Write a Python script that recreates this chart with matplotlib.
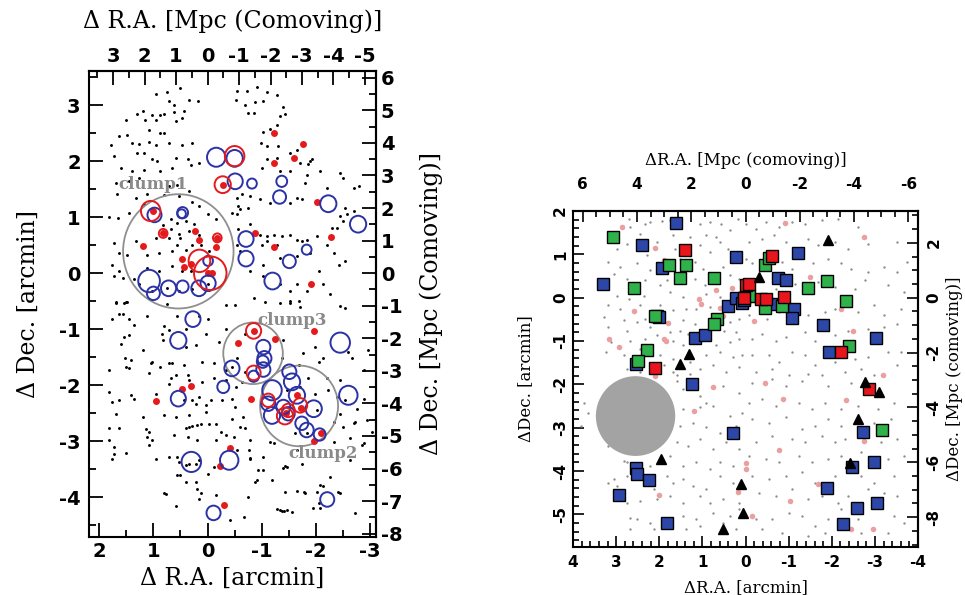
import numpy as np
import matplotlib
matplotlib.use("Agg")
import matplotlib.pyplot as plt
from matplotlib.patches import Circle
from matplotlib.ticker import MultipleLocator, FixedLocator

plt.rcParams["axes.unicode_minus"] = False

# ---------------- left panel data (arcmin) ----------------
left_dots = [
    (0.96, 3.20), (0.74, 3.24), (0.51, 3.31), (0.71, 3.08), (0.34, 3.10), (0.17, 3.08), (0.62, 3.01),
    (1.20, 2.90), (1.30, 2.85), (1.02, 2.82), (0.88, 2.83), (0.80, 2.85), (0.62, 2.88), (0.43, 2.90),
    (1.50, 2.73), (1.15, 2.73), (0.96, 2.73), (0.58, 2.71), (0.47, 2.77), (0.87, 2.51), (0.80, 2.51),
    (1.08, 2.55), (1.64, 2.45), (1.48, 2.46), (1.39, 2.33), (1.27, 2.30), (1.08, 2.35), (0.96, 2.29),
    (0.71, 2.33), (0.47, 2.29), (0.28, 2.33), (1.79, 2.29), (1.73, 2.09), (1.30, 2.15), (1.17, 2.15),
    (1.02, 2.03), (0.93, 2.00), (0.59, 2.06), (0.37, 2.03), (0.16, 1.97), (1.60, 1.88), (1.39, 1.82),
    (1.17, 1.85), (0.87, 1.82), (0.65, 1.87), (0.31, 1.94), (1.70, 1.61), (1.45, 1.64), (1.27, 1.70),
    (0.71, 1.55), (0.56, 1.58), (0.34, 1.46), (1.67, 1.41), (1.33, 1.35), (1.11, 1.41), (0.80, 1.39),
    (0.53, 1.37), (1.82, 1.00), (1.65, 0.99), (1.45, 1.08), (1.17, 1.23), (0.28, 1.27), (0.16, 1.20),
    (0.00, 1.05), (-0.15, 0.96), (0.68, 0.96), (0.56, 0.90), (0.40, 0.93), (0.25, 0.87), (0.83, 0.86),
    (0.68, 0.78), (0.53, 0.70), (0.34, 0.76), (0.16, 0.69), (0.96, 0.63), (0.71, 0.63), (0.50, 0.63),
    (0.28, 0.51), (1.33, 0.57), (1.73, 0.54), (1.64, 0.36), (1.48, 0.33), (1.11, 0.33), (0.90, 0.36),
    (0.65, 0.39), (0.40, 0.42), (0.56, 0.51), (0.13, 0.51), (-0.03, 0.39), (1.64, 0.04), (1.36, -0.11),
    (1.11, 0.10), (0.90, 0.04), (0.65, 0.13), (0.47, 0.04), (0.31, 0.04), (1.76, 0.15), (1.73, -0.05),
    (1.57, -0.08), (1.27, -0.20), (1.02, -0.32), (0.74, -0.26), (0.53, -0.32), (0.28, -0.29),
    (0.00, -0.20), (1.51, -0.52), (1.70, -0.52),
    (-0.54, 3.25), (-0.72, 3.25), (-0.91, 3.32), (-1.09, 3.24), (-1.28, 3.18), (-0.53, 3.10),
    (-0.69, 3.01), (-0.88, 3.06), (-1.03, 3.07), (-0.75, 2.86), (-0.85, 2.86), (-1.40, 2.96),
    (-1.43, 2.85), (-1.34, 2.80), (-1.28, 2.65), (-1.03, 2.52), (-1.16, 2.57), (-0.98, 2.33),
    (-1.09, 2.27), (-1.31, 2.27), (-1.53, 2.15), (-1.65, 2.20), (-1.89, 2.00), (-1.71, 1.97),
    (-1.86, 1.95), (-1.93, 2.03), (-1.09, 2.03), (-1.28, 2.06), (-1.00, 1.88), (-1.34, 1.82),
    (-1.53, 1.82), (-1.83, 1.76), (-1.80, 1.61), (-2.08, 1.82), (-2.20, 1.52), (-2.45, 1.79),
    (-2.51, 1.70), (-2.71, 1.52), (-2.79, 1.55), (-0.54, 1.35), (-0.63, 1.41), (-0.79, 1.38),
    (-0.57, 1.20), (-0.75, 1.17), (-0.97, 1.32), (-1.16, 1.26), (-1.53, 1.26), (-1.65, 1.35),
    (-1.74, 1.32), (-2.54, 1.17), (-2.57, 1.05), (-0.54, 1.05), (-0.60, 1.14), (-0.45, 1.08),
    (-2.30, 0.81), (-2.39, 0.81), (-2.45, 1.02), (-2.51, 0.93), (-2.70, 1.11), (-0.57, 0.78),
    (-0.79, 0.87), (-0.97, 0.69), (-1.09, 0.66), (-1.22, 0.69), (-1.37, 0.66), (-1.53, 0.69),
    (-1.65, 0.60), (-1.74, 0.57), (-1.83, 0.60), (-2.02, 0.66), (-1.09, 0.57), (-1.00, 0.51),
    (-0.60, 0.39), (-0.54, 0.51), (-1.03, 0.15), (-1.28, 0.51), (-1.34, 0.27), (-1.65, 0.30),
    (-1.89, 0.36), (-2.20, 0.51), (-2.33, 0.36), (-2.42, 0.15), (-2.54, 0.21), (-0.79, 0.04),
    (-1.03, -0.05), (-1.34, -0.20), (-1.53, -0.32), (-1.65, -0.20), (-2.05, 0.04), (-2.14, -0.20),
    (-1.83, -0.32), (-2.26, -0.38), (-0.85, -0.44), (-1.34, -0.53), (-1.53, -0.50), (-1.68, -0.50),
    (1.70, -0.54), (1.54, -0.53), (1.48, -0.51), (1.11, -0.77), (0.74, -0.55), (0.56, -0.77),
    (0.16, -0.77), (0.00, -0.81), (-0.34, -0.57), (1.76, -0.81), (1.64, -0.73), (1.57, -0.73),
    (1.45, -0.81), (1.36, -0.93), (0.80, -0.95), (0.85, -1.08), (0.71, -1.02), (0.40, -0.99),
    (0.03, -1.08), (-0.34, -0.99), (1.60, -1.26), (1.45, -1.11), (1.54, -1.14), (1.20, -1.37),
    (0.83, -1.20), (0.40, -1.32), (0.22, -1.29), (-0.21, -1.23), (1.52, -1.52), (1.42, -1.55),
    (1.51, -1.67), (1.45, -1.70), (1.05, -1.61), (1.02, -1.58), (0.71, -1.61), (0.65, -1.60),
    (0.87, -1.67), (0.43, -1.64), (0.37, -1.82), (0.59, -1.82), (0.10, -1.58), (-0.12, -1.61),
    (-0.34, -1.73), (1.82, -1.72), (1.08, -1.79), (0.68, -1.88), (0.71, -1.97), (0.34, -1.91),
    (0.10, -1.94), (-0.12, -1.88), (-0.34, -1.91), (1.82, -2.12), (1.64, -2.27), (1.42, -2.18),
    (1.36, -2.24), (1.76, -2.30), (0.96, -2.15), (0.43, -2.27), (0.28, -2.27), (0.22, -2.33),
    (0.03, -2.36), (0.16, -2.21), (-0.06, -2.27), (-0.27, -2.27), (1.70, -2.51), (1.20, -2.57),
    (0.80, -2.54), (0.59, -2.57), (0.34, -2.54), (0.03, -2.48), (1.82, -2.77), (1.64, -2.77),
    (1.14, -2.79), (1.08, -2.83), (1.11, -2.92), (1.02, -2.98), (1.08, -3.07), (0.40, -2.77),
    (0.34, -2.74), (0.28, -2.73), (0.19, -2.71), (0.13, -2.70), (-0.03, -2.70), (-0.15, -2.70),
    (-0.24, -2.83), (-0.34, -2.89), (0.62, -2.89), (0.37, -2.92), (0.19, -2.98), (-0.15, -2.97),
    (1.82, -2.98), (1.73, -3.10), (1.73, -3.22), (1.76, -3.31), (1.51, -3.21), (0.96, -3.31),
    (0.71, -3.28), (0.56, -3.28), (0.53, -3.37), (0.40, -3.43), (0.34, -3.41), (0.22, -3.40),
    (0.16, -3.33), (0.00, -3.58), (-0.12, -3.46), (0.56, -3.61), (0.50, -3.61), (0.40, -3.73),
    (0.22, -3.73), (0.19, -3.86), (0.13, -3.93), (-0.15, -3.96), (0.80, -3.93), (0.59, -4.16),
    (0.16, -4.04), (0.77, -3.95), (-0.42, -4.40), (-0.68, -4.35), (-0.74, -4.00), (-1.29, -4.21),
    (-1.37, -4.25), (-1.42, -4.25), (-1.65, -3.89), (-1.78, -3.90), (-1.94, -4.20), (-2.13, -3.80),
    (-2.73, -4.29), (-2.40, -3.90), (-1.46, -3.46), (-1.43, -3.45), (-1.39, -3.48), (-0.91, -3.70),
    (-1.03, -3.52), (-0.79, -3.30), (-0.77, -3.15), (-2.70, -2.68),
    (-0.51, -0.57), (-1.06, -0.51), (-1.53, -0.54), (-1.71, -0.60), (-2.45, -0.59), (-2.54, -0.63),
    (-0.69, -1.08), (-0.54, -1.52), (-0.45, -1.67), (-0.69, -1.76), (-0.63, -1.94), (-0.53, -2.03),
    (-0.45, -2.24), (-0.51, -2.39), (-0.45, -2.60), (-0.66, -2.57), (-0.60, -2.74), (-0.69, -2.77),
    (-0.48, -2.92), (-0.79, -2.98), (-0.54, -3.16), (-0.79, -3.31), (-1.03, -3.28), (-0.94, -3.52),
    (-0.88, -3.73), (-1.19, -3.70), (-1.43, -3.90), (-1.80, -3.93), (-2.02, -3.90), (-1.46, -4.23),
    (-1.56, -4.26), (-1.34, -4.23), (-2.05, -4.11), (-2.08, -4.20), (-2.08, -3.79), (-2.45, -3.93),
    (-2.26, -3.64), (-2.63, -3.34), (-2.63, -2.95), (-2.73, -2.66), (-2.51, -2.74), (-2.33, -2.66),
    (-2.45, -2.51), (-2.54, -2.27), (-2.76, -2.42), (-2.39, -2.21), (-2.88, -2.24), (-2.45, -1.91),
    (-2.88, -1.73), (-2.66, -1.52), (-2.60, -1.40), (-2.97, -1.37), (-2.05, -1.58), (-2.14, -1.52),
    (-1.77, -1.43), (-1.68, -1.64), (-1.37, -1.52), (-1.40, -1.20), (-1.99, -1.32), (-1.62, -2.86),
    (-1.65, -3.16), (-1.22, -3.04), (-2.20, -1.88), (-2.23, -2.09), (-1.46, -2.09), (-1.71, -2.03),
    (-1.86, -1.88), (-1.99, -2.15), (-2.02, -2.45), (-1.83, -2.86), (-2.33, -3.01), (-2.88, -3.04),
    (-3.03, -2.83), (-2.94, -2.62), (-2.85, -3.07), (-1.74, -3.40), (-1.16, -3.01),
]

left_red_dots = [
    (-1.23, 2.51), (-1.76, 2.30), (-1.60, 2.06), (-1.22, 1.96), (-0.28, 1.58), (-2.03, 1.27),
    (1.00, 1.11), (0.23, 0.76), (0.82, 0.71), (0.15, 0.59), (-0.18, 0.63), (-0.16, 0.46),
    (1.19, 0.49), (-0.88, 0.71), (-1.23, 0.46), (-2.28, 0.64), (0.48, 0.26), (0.43, 0.11),
    (0.31, 0.17), (0.00, 0.00), (-0.08, 0.00), (-1.91, -0.20), (0.96, -2.28), (0.47, -2.07),
    (0.31, -2.01), (-0.80, -2.24), (-0.42, -3.13), (-0.23, -3.44), (-0.31, -4.13), (-1.96, -1.04),
    (-0.57, -1.24), (-1.25, -1.17), (-0.85, -1.03), (-1.96, -3.00), (-2.09, -2.86), (-1.65, -2.18),
    (-1.73, -2.40), (-1.45, -2.50),
]

# (x, y, radius) in arcmin
left_blue_rings = [
    (-0.16, 2.07, 0.17), (-0.50, 2.05, 0.15), (-0.51, 1.64, 0.14), (-0.82, 1.60, 0.09),
    (-1.37, 1.64, 0.10), (-1.33, 1.36, 0.12), (-2.23, 1.24, 0.15), (-2.78, 0.875, 0.15),
    (0.98, 1.04, 0.13), (0.46, 1.08, 0.10), (0.48, 1.06, 0.08), (-0.71, 0.61, 0.14),
    (-0.71, 0.26, 0.14), (-1.51, 0.21, 0.12), (-1.83, 0.42, 0.09), (-1.20, -0.14, 0.15),
    (-0.01, 0.22, 0.09), (1.08, -0.14, 0.20), (0.72, -0.27, 0.14), (0.46, -0.24, 0.11),
    (0.16, -0.27, 0.14), (-0.01, -0.18, 0.14), (1.00, -0.36, 0.12), (0.27, -0.82, 0.14),
    (0.54, -1.20, 0.15), (-1.03, -1.32, 0.13), (-1.05, -1.52, 0.13), (-1.02, -1.58, 0.11),
    (-1.03, -1.72, 0.13), (-0.45, -1.70, 0.14), (-0.85, -1.84, 0.10), (-1.51, -1.76, 0.13),
    (-1.56, -1.94, 0.15), (-1.19, -2.09, 0.18), (-1.65, -2.18, 0.15), (-1.12, -2.33, 0.13),
    (-1.40, -2.39, 0.13), (-1.96, -2.42, 0.15), (-1.19, -2.54, 0.15), (-1.49, -2.51, 0.12),
    (-1.74, -2.68, 0.12), (-1.83, -2.80, 0.13), (-2.07, -2.88, 0.11), (-2.60, -2.18, 0.17),
    (-2.45, -1.24, 0.18), (0.54, -2.24, 0.14), (-0.29, -2.03, 0.11), (0.30, -3.37, 0.18),
    (-0.40, -3.34, 0.17), (-0.11, -4.28, 0.13), (-2.21, -4.04, 0.13),
]

left_red_rings = [
    (-0.50, 2.09, 0.18), (-0.28, 1.58, 0.15), (1.05, 1.11, 0.18), (0.82, 0.71, 0.08),
    (-0.18, 0.63, 0.08), (0.15, 0.22, 0.20), (-0.05, 0.00, 0.30), (-0.85, -1.03, 0.14),
    (-0.85, -1.78, 0.13), (-1.12, -2.27, 0.12), (-1.43, -2.55, 0.15), (-1.71, -2.36, 0.13),
    (-1.49, -2.45, 0.12),
]

clump_names = ["clump1", "clump2", "clump3"]
clump_centers = [(0.54, 0.39), (-1.69, -2.37), (-0.84, -1.43)]
clump_radii = [1.02, 0.72, 0.55]
clump_label_pos = [(1.0, 1.58), (-2.14, -3.22), (-1.56, -0.84)]

left_top_ticks = [3, 2, 1, 0, -1, -2, -3, -4, -5]
left_right_ticks = [6, 5, 4, 3, 2, 1, 0, -1, -2, -3, -4, -5, -6, -7, -8]

# ---------------- right panel data (arcmin) ----------------
right_dots = [
    (2.71, 1.82), (2.32, 1.69), (2.21, 1.75), (1.94, 1.76), (1.75, 1.79), (1.06, 1.69), (0.83, 1.75),
    (0.57, 1.71), (0.18, 1.82), (2.67, 1.63), (2.44, 1.48), (1.67, 1.44), (1.29, 1.40), (0.91, 1.44),
    (0.68, 1.40), (0.37, 1.55), (2.97, 1.13), (2.74, 1.25), (2.29, 0.98), (2.06, 1.29), (1.64, 1.13),
    (1.06, 1.21), (0.83, 1.05), (0.60, 1.29), (0.41, 1.13), (3.20, 0.82), (2.90, 0.71), (2.52, 0.79),
    (2.21, 0.63), (1.52, 0.90), (1.18, 0.82), (0.99, 0.67), (0.53, 0.71), (3.05, 0.55), (2.74, 0.44),
    (2.32, 0.40), (1.98, 0.29), (1.83, 0.40), (1.18, 0.44), (0.95, 0.29), (0.37, 0.52), (0.15, 0.44),
    (2.97, 0.05), (2.71, -0.02), (2.36, 0.05), (1.75, 0.13), (1.44, 0.01), (0.91, 0.09), (0.60, 0.01),
    (0.15, 0.13), (3.20, -0.18), (2.90, -0.25), (2.44, -0.18), (1.98, -0.18), (1.67, -0.29),
    (1.37, -0.25), (1.14, -0.25), (0.83, -0.22), (3.28, -0.45), (2.82, -0.52), (2.52, -0.56),
    (2.32, -0.49), (1.44, -0.52), (1.18, -0.60), (0.76, -0.37), (0.37, -0.56), (0.15, -0.49),
    (3.20, -0.68), (2.74, -0.76), (2.21, -0.68), (1.75, -0.79), (1.52, -0.76), (1.33, -0.83),
    (0.83, -0.72), (0.49, -0.76), (0.22, -0.79), (3.13, -1.02), (2.67, -0.99), (2.32, -0.95),
    (2.06, -0.87), (1.67, -0.99), (1.44, -1.10), (0.68, -1.10), (0.37, -1.02), (0.15, -0.95),
    (3.24, -1.26), (2.82, -1.33), (2.44, -1.18), (1.98, -1.33), (1.67, -1.41), (1.29, -1.49),
    (0.91, -1.33), (0.60, -1.26), (0.30, -1.37), (0.07, -1.33), (2.74, -1.64), (2.44, -1.72),
    (1.90, -1.56), (1.67, -1.72), (1.06, -1.64), (0.76, -1.56), (0.45, -1.72), (0.15, -1.60),
    (2.13, -1.79), (1.60, -1.79), (1.29, -1.76),
    (-0.01, 1.71), (-0.24, 1.59), (-0.47, 1.75), (-0.77, 1.63), (-1.08, 1.75), (-1.38, 1.71),
    (-1.77, 1.79), (-2.15, 1.82), (-2.61, 1.63), (-0.08, 1.29), (-0.39, 1.36), (-0.66, 1.44),
    (-0.93, 1.29), (-1.46, 1.36), (-1.69, 1.21), (-2.07, 1.29), (-2.38, 1.13), (-2.84, 1.25),
    (-3.52, 1.29), (-0.01, 0.90), (-0.16, 0.79), (-0.85, 0.82), (-1.08, 0.67), (-1.57, 0.79),
    (-1.92, 0.90), (-2.22, 0.79), (-2.45, 0.67), (-2.84, 0.59), (-3.22, 0.71), (-3.52, 0.59),
    (-3.75, 0.82), (-0.70, 0.21), (-1.15, 0.32), (-1.69, 0.36), (-2.07, 0.25), (-2.53, 0.21),
    (-2.76, 0.40), (-3.30, 0.29), (-3.68, 0.13), (-0.08, -0.41), (-0.50, -0.49), (-0.77, -0.33),
    (-1.46, -0.41), (-1.84, -0.33), (-2.07, -0.25), (-2.61, -0.33), (-2.99, -0.18), (-3.22, -0.41),
    (-3.60, -0.25), (-0.16, -0.95), (-0.39, -0.83), (-0.70, -0.99), (-0.93, -0.91), (-1.38, -0.79),
    (-1.61, -0.99), (-2.07, -0.87), (-2.38, -0.76), (-2.84, -0.72), (-3.22, -0.68), (-3.52, -0.60),
    (-0.16, -1.33), (-0.54, -1.33), (-0.77, -1.49), (-1.08, -1.26), (-1.38, -1.33), (-1.61, -1.56),
    (-2.07, -1.49), (-2.53, -1.41), (-2.84, -1.37), (-3.30, -1.26), (-3.60, -1.26), (-0.24, -1.72),
    (-0.62, -1.64), (-1.00, -1.79), (-1.46, -1.76), (-1.77, -1.79), (-2.30, -1.72), (-2.68, -1.64),
    (-2.99, -1.79), (-3.52, -1.56),
    (1.60, -1.92), (1.44, -2.11), (1.06, -2.26), (0.91, -2.42), (0.53, -2.03), (0.15, -2.19),
    (1.44, -2.57), (1.06, -2.53), (0.76, -2.49), (0.37, -2.72), (0.07, -2.65), (1.52, -2.96),
    (1.22, -2.88), (0.91, -2.99), (0.60, -3.11), (0.22, -2.96), (1.60, -3.34), (1.33, -3.42),
    (1.06, -3.26), (0.76, -3.49), (0.45, -3.34), (0.15, -3.49), (3.20, -3.42), (2.74, -3.80),
    (2.82, -3.76), (2.21, -3.88), (1.75, -3.65), (1.44, -3.88), (1.14, -3.80), (0.83, -3.96),
    (0.60, -3.80), (0.30, -3.88), (3.20, -4.27), (3.05, -4.19), (2.97, -4.34), (2.74, -4.11),
    (2.44, -4.03), (2.13, -4.42), (1.83, -4.11), (1.67, -4.27), (1.44, -4.19), (1.22, -4.34),
    (0.91, -4.42), (0.60, -4.11), (0.30, -4.27), (3.05, -4.65), (2.74, -4.73), (2.44, -4.69),
    (2.06, -4.65), (1.75, -4.57), (1.44, -4.73), (1.06, -4.57), (0.83, -4.73), (0.53, -4.65),
    (0.15, -4.73), (2.67, -5.07), (2.52, -5.11), (2.21, -5.19), (1.44, -5.03), (1.14, -5.11),
    (0.76, -4.96), (0.37, -5.03), (0.15, -4.88), (2.67, -5.34), (2.13, -5.34), (1.37, -5.34),
    (1.06, -5.27), (0.53, -5.19), (0.22, -5.34), (3.74, -2.42), (3.66, -2.65), (3.81, -2.96),
    (-0.16, -1.96), (-0.62, -1.88), (-0.93, -2.03), (-1.31, -1.92), (-1.92, -2.03), (-2.45, -1.96),
    (-0.08, -2.42), (-0.39, -2.34), (-0.70, -2.49), (-1.23, -2.42), (-1.54, -2.57), (-1.84, -2.42),
    (-2.22, -2.57), (-2.61, -2.49), (-3.07, -2.57), (-3.45, -2.42), (-0.16, -2.80), (-0.54, -2.88),
    (-0.93, -2.76), (-1.31, -3.03), (-1.61, -2.96), (-1.92, -2.80), (-2.22, -2.96), (-2.99, -2.88),
    (-3.37, -2.80), (-0.24, -3.34), (-0.62, -3.19), (-1.08, -3.26), (-1.38, -3.34), (-1.77, -3.19),
    (-2.07, -3.34), (-2.30, -3.26), (-3.14, -3.34), (-3.52, -3.26), (-0.08, -3.65), (-0.47, -3.73),
    (-0.77, -3.80), (-1.23, -3.65), (-1.54, -3.80), (-1.92, -3.73), (-2.22, -3.65), (-2.68, -3.57),
    (-3.30, -3.73), (-3.68, -3.65), (-0.16, -4.11), (-0.54, -4.19), (-0.93, -4.11), (-1.31, -4.03),
    (-1.61, -4.27), (-2.07, -4.11), (-2.68, -4.11), (-2.99, -4.27), (-3.45, -4.11), (-0.31, -4.50),
    (-0.70, -4.57), (-1.08, -4.42), (-1.46, -4.65), (-1.77, -4.57), (-2.15, -4.73), (-2.38, -4.57),
    (-2.84, -4.42), (-3.22, -4.50), (-3.52, -4.57), (-0.24, -5.11), (-0.62, -5.11), (-1.00, -4.96),
    (-1.31, -5.03), (-1.61, -5.27), (-1.92, -5.11), (-2.22, -4.88), (-2.61, -5.11), (-3.45, -5.03),
    (-3.68, -5.19), (-0.39, -5.34), (-0.85, -5.42), (-1.46, -5.50), (-1.84, -5.42), (-2.68, -5.42),
    (-3.30, -5.42),
]

right_pink = [
    (2.87, 1.63), (2.09, 1.15), (1.90, 0.86), (0.68, 0.18), (0.31, 0.22), (1.08, -0.02),
    (1.04, -0.14), (0.60, -0.24), (2.59, -0.30), (1.79, -0.58), (1.90, -0.95), (1.84, -1.01),
    (3.17, -0.95), (2.94, -1.14), (0.53, -0.42), (-0.92, 1.73), (-2.75, 1.40), (-1.50, 0.48),
    (-2.21, -0.27), (-0.20, -0.54), (-2.49, -0.77), (-3.18, -1.78), (2.10, -1.80), (0.76, -2.07),
    (1.20, -2.61), (2.00, -4.56), (0.17, -4.48), (0.00, -3.82), (0.00, -3.94), (-0.45, -1.97),
    (-0.86, -2.33), (-2.32, -2.36), (-0.77, -3.51), (-2.75, -3.30), (-1.67, -4.30), (-1.04, -4.69),
    (-2.45, -5.34), (-2.95, -5.34), (-0.15, -5.04),
]

right_blue = [
    (1.61, 1.73), (2.39, 1.21), (0.22, 0.94), (1.94, 0.68), (3.30, 0.31), (2.06, -0.43),
    (2.00, -0.45), (0.41, -0.20), (0.22, 0.00), (0.07, -0.13), (1.18, -0.93), (0.95, -0.85),
    (2.54, -1.53), (-1.21, 1.02), (-0.76, 0.46), (-0.93, 0.40), (0.03, -0.06), (-0.58, -0.14),
    (-1.13, -0.25), (-1.08, -0.46), (-1.80, -0.64), (-3.03, -0.92), (-1.94, -1.26),
    (1.24, -1.99), (0.28, -3.13), (2.54, -3.93), (2.52, -4.07), (2.23, -4.20), (2.94, -4.55),
    (1.83, -5.19), (-2.72, -3.09), (-2.97, -3.79), (-2.47, -3.90), (-1.90, -4.40), (-3.05, -4.74),
    (-2.58, -4.86), (-2.25, -5.21),
]
right_green = [
    (3.07, 1.39), (1.77, 0.75), (1.37, 0.75), (1.51, 0.45), (0.73, 0.45), (2.59, 0.22),
    (2.09, -0.43), (0.66, -0.49), (0.72, -0.60), (2.29, -1.21), (2.49, -1.47), (-0.45, 0.75),
    (-0.54, 0.92), (-1.90, 0.38), (-1.46, 0.23), (-2.32, -0.08), (-0.08, 0.04), (-0.45, -0.24),
    (-0.85, -0.20), (-2.39, -1.12), (-3.16, -3.05),
]
right_red = [
    (1.41, 1.09), (2.10, -1.63), (-0.01, 0.30), (0.03, 0.00), (-0.62, 0.96), (-0.07, 0.32),
    (-0.37, -0.02), (-0.48, -0.02), (-0.89, 0.01), (-2.22, -1.26), (-2.87, -2.11),
]
right_triangles = [
    (1.32, -1.31), (1.52, -1.53), (-1.92, 1.34), (-0.31, 0.48), (1.96, -3.73), (0.11, -4.30),
    (0.05, -4.96), (0.53, -5.34), (-2.78, -1.95), (-3.10, -2.17), (-2.62, -2.79), (-2.42, -3.82),
]
mask_center = (2.55, -2.73)
mask_radius = 0.92

right_top_ticks = [6, 4, 2, 0, -2, -4, -6]
right_right_ticks = [2, 0, -2, -4, -6, -8]

# arcmin -> comoving Mpc conversion factors
left_scale = 1.72
right_scale_x = 1.59
right_scale_y = 1.58

BLUE = "#2a32a6"
RED = "#e41a1c"

fig = plt.figure(figsize=(9.65, 5.95), dpi=100)

# ======================= left panel =======================
ax = fig.add_axes([0.0922, 0.0975, 0.2974, 0.7832])
d = np.array(left_dots)
ax.plot(d[:, 0], d[:, 1], "o", ms=2.1, color="black", mec="none", zorder=2)
r = np.array(left_red_dots)
ax.plot(r[:, 0], r[:, 1], "o", ms=5, color=RED, mec="none", zorder=3)
for (cx, cy), cr in zip(clump_centers, clump_radii):
    ax.add_patch(Circle((cx, cy), cr, fill=False, ec="#8f8f8f", lw=1.3, zorder=2))
for cx, cy, cr in left_blue_rings:
    ax.add_patch(Circle((cx, cy), cr, fill=False, ec=BLUE, lw=1.4, zorder=4))
for cx, cy, cr in left_red_rings:
    ax.add_patch(Circle((cx, cy), cr, fill=False, ec=RED, lw=1.4, zorder=4))
for name, (lx, ly) in zip(clump_names, clump_label_pos):
    ax.text(lx, ly, name, color="#8a8a8a", fontsize=12, fontweight="bold",
            family="DejaVu Serif", ha="center", va="center", zorder=5)

ax.set_xlim(2.19, -3.11)
ax.set_ylim(-4.71, 3.61)
ax.xaxis.set_major_locator(MultipleLocator(1))
ax.xaxis.set_minor_locator(MultipleLocator(0.5))
ax.yaxis.set_major_locator(MultipleLocator(1))
ax.yaxis.set_minor_locator(MultipleLocator(0.5))
ax.tick_params(which="both", direction="in", top=False, right=False, width=1.3,
               labelsize=14)
ax.tick_params(which="major", length=10)
ax.tick_params(which="minor", length=5)
ax.tick_params(axis="y", pad=6)
for lab in ax.get_xticklabels() + ax.get_yticklabels():
    lab.set_fontweight("bold")
for s in ax.spines.values():
    s.set_linewidth(1.5)
ax.set_xlabel("Δ R.A. [arcmin]", fontsize=17, family="DejaVu Serif", labelpad=4)
ax.set_ylabel("Δ Dec. [arcmin]", fontsize=17, family="DejaVu Serif", labelpad=14)

top = ax.secondary_xaxis("top", functions=(lambda x: x * left_scale, lambda m: m / left_scale))
top.xaxis.set_major_locator(FixedLocator(left_top_ticks))
top.xaxis.set_minor_locator(MultipleLocator(0.5))
top.tick_params(which="both", direction="in", width=1.3, labelsize=14)
top.tick_params(which="major", length=10)
top.tick_params(which="minor", length=5)
top.set_xlabel("Δ R.A. [Mpc (Comoving)]", fontsize=17, family="DejaVu Serif", labelpad=14)
right = ax.secondary_yaxis("right", functions=(lambda y: y * left_scale, lambda m: m / left_scale))
right.yaxis.set_major_locator(FixedLocator(left_right_ticks))
right.yaxis.set_minor_locator(MultipleLocator(0.5))
right.tick_params(which="both", direction="in", width=1.3, labelsize=14)
right.tick_params(which="major", length=10)
right.tick_params(which="minor", length=5)
right.set_ylabel("Δ Dec. [Mpc (Comoving)]", fontsize=17, family="DejaVu Serif", labelpad=12)
for a in (top, right):
    for lab in a.xaxis.get_ticklabels() + a.yaxis.get_ticklabels():
        lab.set_fontweight("bold")
    for s in a.spines.values():
        s.set_linewidth(1.5)

# ======================= right panel =======================
bx = fig.add_axes([0.5938, 0.0807, 0.3575, 0.5647])
g = np.array(right_dots)
bx.plot(g[:, 0], g[:, 1], "o", ms=1.7, color="#8c8c8c", mec="none", zorder=2)
p = np.array(right_pink)
bx.plot(p[:, 0], p[:, 1], "o", ms=4, color="#eaa0a0", mec="none", zorder=2)
bx.add_patch(Circle(mask_center, mask_radius, color="#a3a3a3", ec="none", zorder=3))
for pts, col in ((right_blue, "#2d47a8"), (right_green, "#2fb24a"), (right_red, "#e8161c")):
    q = np.array(pts)
    bx.plot(q[:, 0], q[:, 1], "s", ms=8.5, color=col, mec="black", mew=1.0, zorder=4)
t = np.array(right_triangles)
bx.plot(t[:, 0], t[:, 1], "^", ms=7, color="black", mec="black", zorder=4)

bx.set_xlim(4, -4)
bx.set_ylim(-5.75, 2)
bx.xaxis.set_major_locator(MultipleLocator(1))
bx.xaxis.set_minor_locator(MultipleLocator(0.2))
bx.yaxis.set_major_locator(MultipleLocator(1))
bx.yaxis.set_minor_locator(MultipleLocator(0.2))
bx.tick_params(which="both", direction="in", top=False, right=False, width=1.2, labelsize=11)
bx.tick_params(which="major", length=8)
bx.tick_params(which="minor", length=4)
bx.tick_params(axis="x", pad=6)
for lab in bx.get_yticklabels():
    lab.set_rotation(90)
    lab.set_va("center")
for lab in bx.get_xticklabels() + bx.get_yticklabels():
    lab.set_fontweight("bold")
for s in bx.spines.values():
    s.set_linewidth(1.5)
bx.set_xlabel("ΔR.A. [arcmin]", fontsize=12, family="DejaVu Serif", labelpad=6)
bx.set_ylabel("ΔDec. [arcmin]", fontsize=12, family="DejaVu Serif", labelpad=14)

btop = bx.secondary_xaxis("top", functions=(lambda x: x * right_scale_x, lambda m: m / right_scale_x))
btop.xaxis.set_major_locator(FixedLocator(right_top_ticks))
btop.xaxis.set_minor_locator(MultipleLocator(0.5))
btop.tick_params(which="both", direction="in", width=1.2, labelsize=11, pad=14)
btop.tick_params(which="major", length=8)
btop.tick_params(which="minor", length=4)
btop.set_xlabel("ΔR.A. [Mpc (comoving)]", fontsize=12, family="DejaVu Serif", labelpad=8)
bright = bx.secondary_yaxis("right", functions=(lambda y: y * right_scale_y, lambda m: m / right_scale_y))
bright.yaxis.set_major_locator(FixedLocator(right_right_ticks))
bright.yaxis.set_minor_locator(MultipleLocator(0.5))
bright.tick_params(which="both", direction="in", width=1.2, labelsize=11, pad=6)
bright.tick_params(which="major", length=8)
bright.tick_params(which="minor", length=4)
bright.set_ylabel("ΔDec. [Mpc (comoving)]", fontsize=12, family="DejaVu Serif", labelpad=3)
fig.canvas.draw()
for lab in bright.yaxis.get_ticklabels():
    lab.set_rotation(90)
    lab.set_va("center")
for a in (btop, bright):
    for lab in a.xaxis.get_ticklabels() + a.yaxis.get_ticklabels():
        lab.set_fontweight("bold")
    for s in a.spines.values():
        s.set_linewidth(1.5)

fig.savefig("out.png", dpi=100)
